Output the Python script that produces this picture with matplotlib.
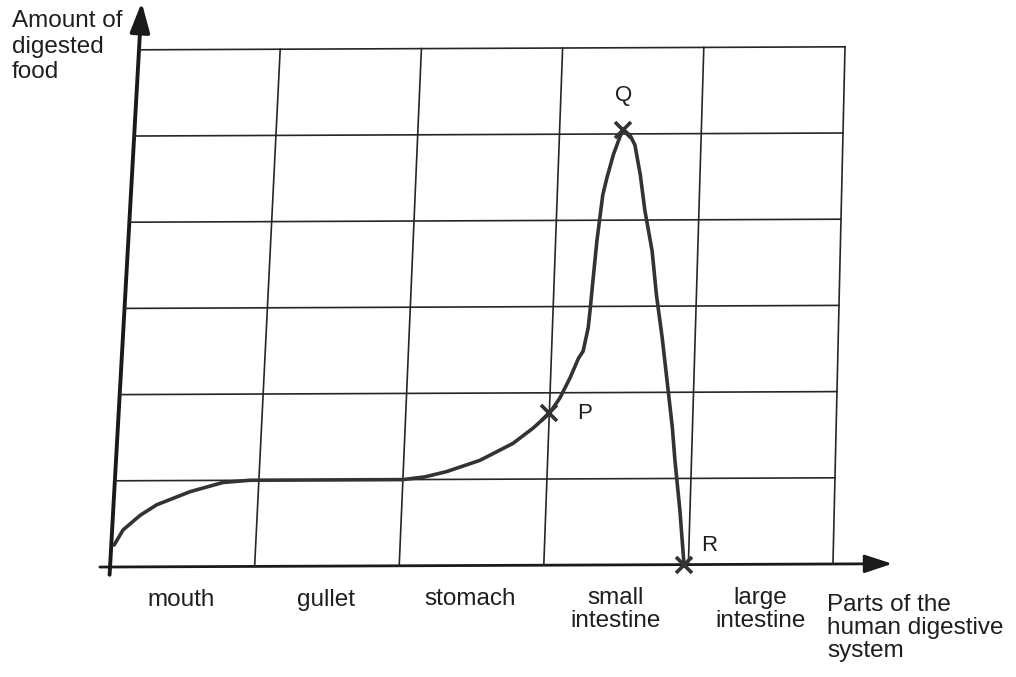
import numpy as np
import matplotlib
matplotlib.use("Agg")
from matplotlib import pyplot as plt
from matplotlib import transforms as mtransforms
from matplotlib.patches import FancyArrowPatch

plt.rcParams["font.family"] = ["Liberation Sans", "DejaVu Sans"]

# digestive tract sections along the x axis (one grid column each)
parts = ["mouth", "gullet", "stomach", "small\nintestine", "large\nintestine"]
n_rows = 6

# amount of digested food along the tract
food_x = [0.02, 0.076, 0.19, 0.30, 0.526, 0.75, 0.94, 1.0, 1.5, 2.0, 2.15, 2.30,
          2.53, 2.755, 2.89, 3.0, 3.07, 3.135, 3.19, 3.22, 3.25, 3.26, 3.27,
          3.29, 3.32, 3.345, 3.385, 3.43, 3.45, 3.50, 3.535, 3.58, 3.62, 3.68,
          3.72, 3.77, 3.81, 3.86, 3.885, 3.93, 3.97]
food_y = [0.255, 0.43, 0.60, 0.72, 0.87, 0.975, 1.0, 1.0, 1.0, 1.0, 1.03, 1.09,
          1.22, 1.415, 1.59, 1.76, 1.94, 2.17, 2.40, 2.48, 2.75, 2.98, 3.25,
          3.76, 4.29, 4.49, 4.76, 4.98, 5.05, 4.98, 4.87, 4.52, 4.11, 3.64,
          3.13, 2.63, 2.17, 1.59, 1.21, 0.63, 0.0]

# marked points
mark_names = ["P", "Q", "R"]
mark_x = [3.0, 3.45, 3.97]
mark_y = [1.76, 5.05, 0.0]
mark_offsets = [(20, 0), (0, 17), (12, 14)]

LEAN = (0.0334, -0.0039, 0.007)


class HandDrawn(mtransforms.Transform):
    """Slight lean of the hand-drawn grid: columns tilt to the right going up."""
    input_dims = 2
    output_dims = 2

    def transform_non_affine(self, values):
        a, b, c = LEAN
        values = np.asarray(values, dtype=float)
        x, y = values[:, 0], values[:, 1]
        return np.column_stack([x + (a + b * x) * y, y + c * x])

    def inverted(self):
        return HandDrawnInverse()


class HandDrawnInverse(mtransforms.Transform):
    input_dims = 2
    output_dims = 2

    def transform_non_affine(self, values):
        a, b, c = LEAN
        values = np.asarray(values, dtype=float)
        xp, yp = values[:, 0], values[:, 1]
        x = xp.copy()
        for _ in range(20):
            y = yp - c * x
            x = (xp - a * y) / (1 + b * y)
        return np.column_stack([x, yp - c * x])

    def inverted(self):
        return HandDrawn()


ink = "#262626"
txt = "#1e1e1e"
fig = plt.figure(figsize=(10.16, 6.77), dpi=100)
ax = fig.add_axes([0, 0, 1, 1])
ax.set_xlim(-0.761, 6.266)
ax.set_ylim(-1.276, 6.578)
ax.axis("off")
tr = HandDrawn() + ax.transData

ncols = len(parts)
# grid
for i in range(1, ncols + 1):
    ax.plot([i, i], [0, n_rows], color=ink, lw=1.2, transform=tr)
for j in range(1, n_rows + 1):
    ax.plot([0, ncols], [j, j], color=ink, lw=1.2, transform=tr)

# axes with arrow heads
ax.add_artist(FancyArrowPatch((0, -0.09), (0, 6.55), transform=tr,
                              arrowstyle="-|>,head_length=0.9,head_width=0.3",
                              mutation_scale=20, color="#1a1a1a", lw=2.8,
                              shrinkA=0, shrinkB=0))
ax.add_artist(FancyArrowPatch((-0.07, 0), (5.41, 0), transform=tr,
                              arrowstyle="-|>,head_length=0.85,head_width=0.28",
                              mutation_scale=20, color="#1a1a1a", lw=2.0,
                              shrinkA=0, shrinkB=0))

# curve
ax.plot(food_x, food_y, color="#333333", lw=2.6, solid_capstyle="round",
        solid_joinstyle="round", transform=tr)

for name, mx, my, off in zip(mark_names, mark_x, mark_y, mark_offsets):
    ax.plot([mx], [my], marker="x", ms=11, mew=2.6, color="#333333", transform=tr)
    ax.annotate(name, (mx, my), xycoords=tr, xytext=off, textcoords="offset points",
                ha="center" if off[0] == 0 else "left",
                va="bottom" if off[0] == 0 else "center",
                fontsize=16, color=txt)

# section names under the x axis
for i, name in enumerate(parts):
    ax.text(i + 0.5, -0.26, name, transform=tr, ha="center", va="top",
            fontsize=17.5, color=txt, linespacing=1.06)

fig.text(12 / 1016, 1 - 10 / 677, "Amount of\ndigested\nfood", ha="left", va="top",
         fontsize=17.5, color=txt, linespacing=1.22)
ax.text(4.965, -0.35, "Parts of the\nhuman digestive\nsystem", transform=tr,
        ha="left", va="top", fontsize=17.5, color=txt, linespacing=1.06)

fig.savefig("out.png", dpi=100, facecolor="white")
